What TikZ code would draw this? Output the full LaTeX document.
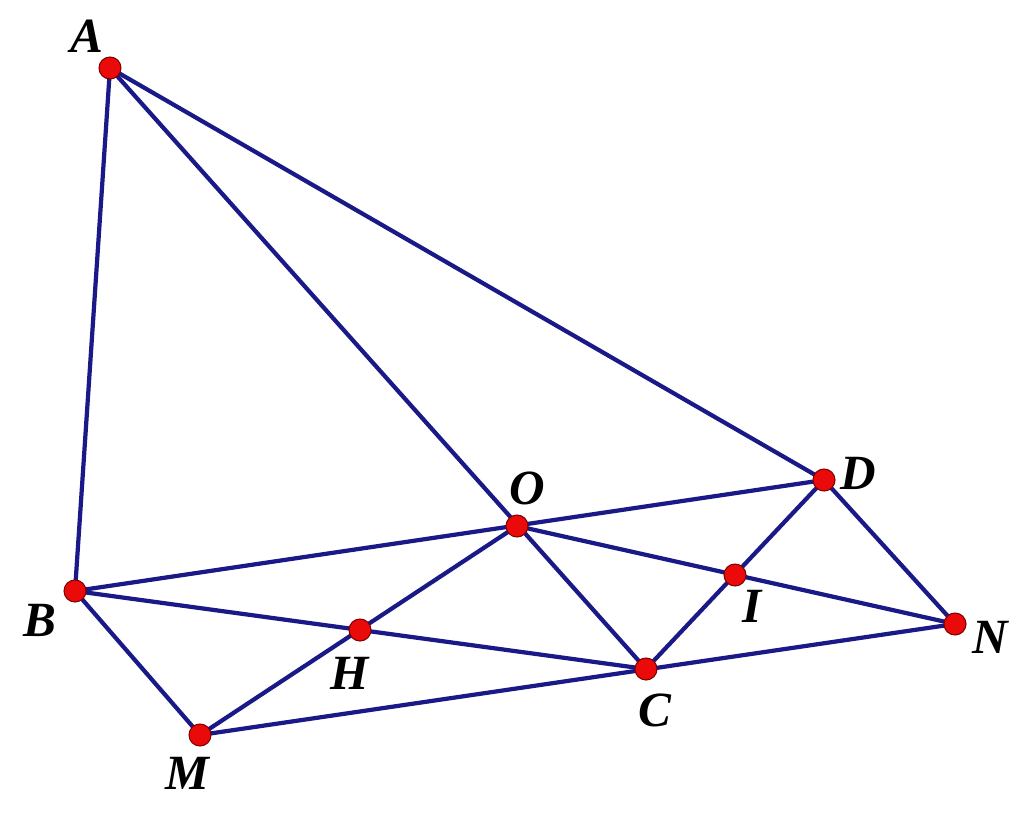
\documentclass[tikz,border=0pt]{standalone}
\usepackage{fontspec}
\setmainfont{Liberation Serif}
\definecolor{edgeblue}{RGB}{25,25,135}
\definecolor{ptred}{RGB}{235,10,10}
\tikzset{
  seg/.style={edgeblue, line width=1.2pt, line cap=round},
  pt/.style={circle, fill=ptred, draw=red!50!black, line width=0.3pt, inner sep=0pt, minimum size=2.2mm},
  lab/.style={font=\fontsize{14}{16}\selectfont\bfseries\itshape}
}
\begin{document}
\begin{tikzpicture}[x=0.01cm, y=-0.01cm]
		\useasboundingbox (0,0) rectangle (1024,821);

		% Define points
		\coordinate (A) at (110,68);
		\coordinate (B) at (75,591);
		\coordinate (O) at (517,526);
		\coordinate (D) at (824,480);
		\coordinate (C) at (646,669);
		\coordinate (H) at (360,630);
		\coordinate (I) at (735,575);
		\coordinate (N) at (955,624);
		\coordinate (M) at (200,735);

		% Draw the segments
		\draw[seg] (A) -- (B);
		\draw[seg] (A) -- (C);
		\draw[seg] (A) -- (D);
		\draw[seg] (B) -- (D);
		\draw[seg] (B) -- (C);
		\draw[seg] (B) -- (M);
		\draw[seg] (M) -- (O);
		\draw[seg] (M) -- (N);
		\draw[seg] (D) -- (N);
		\draw[seg] (D) -- (C);
		\draw[seg] (O) -- (N);

		% Mark the points
		\foreach \p in {A,B,O,D,C,H,I,N,M}
			\node[pt] (p\p) at (\p) {};

		% Label the points
		\node[lab] (lA) at (87,36) {A};
		\node[lab] (lB) at (40,620) {B};
		\node[lab] (lO) at (527,488) {O};
		\node[lab] (lD) at (858,473) {D};
		\node[lab] (lC) at (655,710) {C};
		\node[lab] (lH) at (350,673) {H};
		\node[lab] (lI) at (752,606) {I};
		\node[lab] (lN) at (990,637) {N};
		\node[lab] (lM) at (187,773) {M};
	\end{tikzpicture}
\end{document}
